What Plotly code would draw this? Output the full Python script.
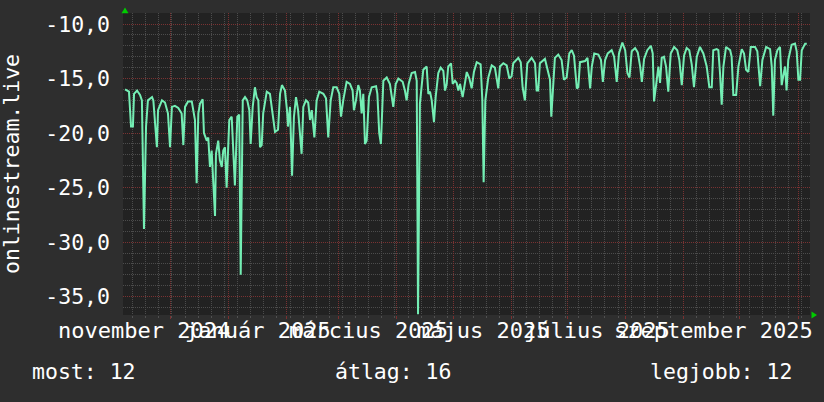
import pandas as pd
import plotly.graph_objects as go

# ---- data ----
base_date = "2024-11-01"   # day offsets below are days since this date

day_offset = [
    6.0, 8.1, 9.2, 10.2, 10.8, 12.4, 14.0, 15.0, 16.1, 17.2,
    18.2, 20.4, 21.1, 22.0, 23.0, 23.6, 25.7, 27.3, 28.9, 30.0,
    31.0, 32.6, 34.4, 36.2, 37.1, 38.0, 39.6, 41.6, 43.3, 44.2,
    45.1, 46.0, 47.4, 48.1, 49.6, 50.4, 51.3, 52.2, 53.1, 54.0,
    54.5, 55.7, 56.6, 57.6, 58.4, 59.3, 60.2, 61.6, 62.9, 64.6,
    65.9, 66.9, 67.7, 68.8, 70.0, 71.2, 72.3, 73.0, 74.1, 75.3,
    76.2, 77.1, 78.0, 78.9, 79.7, 81.6, 83.3, 84.9, 86.0, 87.6,
    88.7, 89.7, 91.3, 92.4, 92.9, 94.0, 95.1, 96.1, 97.2, 98.3,
    100.2, 101.1, 102.5, 103.7, 104.7, 105.6, 107.0, 108.2, 109.6, 111.8,
    113.2, 114.4, 115.7, 117.1, 118.9, 120.3, 121.2, 122.4, 124.2, 126.0,
    127.4, 128.1, 129.2, 130.4, 131.3, 132.2, 133.1, 134.0, 134.9, 136.1,
    137.6, 139.9, 140.6, 141.6, 142.5, 143.8, 145.6, 147.3, 148.2, 149.1,
    150.4, 151.8, 154.1, 155.3, 156.2, 157.3, 158.9, 160.7, 161.6, 162.3,
    163.3, 165.1, 166.9, 167.8, 168.7, 169.6, 170.8, 171.7, 173.1, 174.4,
    175.8, 176.7, 177.6, 178.4, 179.9, 180.8, 182.0, 182.9, 183.8, 184.7,
    186.1, 187.4, 188.3, 189.7, 190.9, 192.1, 193.6, 195.7, 196.6, 197.3,
    198.2, 199.8, 201.6, 203.3, 205.1, 206.0, 207.8, 209.6, 211.0, 212.2,
    213.1, 215.8, 217.1, 218.1, 219.3, 220.6, 222.9, 224.7, 225.6, 226.4,
    227.3, 230.0, 231.8, 232.7, 233.4, 234.4, 235.3, 237.1, 238.9, 240.1,
    241.6, 243.0, 244.3, 245.5, 247.0, 247.8, 248.7, 251.4, 252.7, 254.1,
    255.0, 256.3, 258.5, 259.9, 260.9, 262.1, 263.5, 265.6, 266.9, 268.3,
    269.5, 271.3, 272.8, 274.0, 275.1, 276.3, 278.1, 279.5, 280.8, 281.7,
    282.9, 284.6, 286.5, 287.5, 288.2, 289.3, 290.5, 291.4, 292.3, 293.5,
    294.6, 295.8, 297.1, 298.9, 300.6, 301.7, 303.0, 304.2, 305.6, 307.0,
    308.3, 309.5, 311.0, 312.7, 314.5, 316.3, 317.7, 319.0, 319.8, 321.6,
    322.5, 323.4, 324.3, 325.2, 326.6, 328.8, 329.6, 330.5, 332.0, 333.2,
    335.0, 336.2, 337.3, 338.5, 339.8, 342.1, 343.3, 344.8, 346.0, 348.0,
    350.1, 351.0, 351.8, 352.7, 354.0, 355.4, 356.3, 357.1, 358.1, 358.9,
    359.8, 361.6, 363.4, 364.3, 365.2, 366.1, 367.0, 368.8, 369.7,
]

values = [
    -16.0, -16.2, -19.4, -19.4, -16.4, -16.1, -16.5, -17.0, -28.8, -19.4,
    -17.0, -16.7, -17.0, -18.8, -21.3, -17.9, -17.0, -17.2, -18.2, -21.3,
    -17.6, -17.5, -17.7, -18.2, -21.1, -17.6, -17.1, -17.1, -18.8, -24.6,
    -18.2, -17.3, -16.9, -20.0, -20.7, -20.4, -23.1, -21.6, -25.3, -27.6,
    -21.9, -20.7, -22.5, -23.1, -21.6, -21.3, -25.0, -18.8, -18.5, -24.8,
    -18.5, -18.3, -33.0, -17.0, -16.7, -17.0, -17.9, -21.0, -17.6, -15.8,
    -16.7, -17.0, -21.3, -21.1, -18.2, -16.2, -16.4, -18.2, -19.9, -19.7,
    -16.4, -15.6, -16.1, -17.9, -19.4, -17.6, -23.9, -18.5, -16.7, -17.9,
    -21.9, -17.6, -17.0, -17.2, -18.8, -17.9, -20.4, -17.0, -16.2, -16.4,
    -16.8, -20.4, -17.0, -15.8, -15.8, -16.4, -18.5, -17.0, -15.3, -15.5,
    -16.1, -17.9, -17.0, -15.6, -16.1, -18.2, -16.4, -21.0, -20.7, -16.7,
    -15.8, -15.7, -16.4, -20.0, -21.0, -15.2, -14.9, -15.5, -16.7, -17.6,
    -15.5, -15.0, -15.3, -16.1, -17.0, -15.5, -14.5, -14.4, -15.2, -36.6,
    -17.3, -14.2, -13.9, -16.4, -16.2, -17.0, -19.0, -16.7, -14.5, -14.0,
    -14.3, -16.1, -15.5, -13.9, -13.6, -15.5, -15.2, -15.4, -16.1, -15.5,
    -16.7, -15.2, -14.4, -15.0, -15.9, -14.4, -13.5, -13.7, -17.0, -24.5,
    -17.0, -14.9, -13.8, -14.0, -15.9, -13.9, -13.6, -13.8, -15.0, -14.8,
    -13.6, -13.1, -13.5, -15.8, -17.0, -13.6, -13.1, -13.6, -16.1, -16.1,
    -13.6, -13.2, -14.5, -15.1, -18.5, -14.9, -13.1, -12.8, -13.3, -15.1,
    -14.9, -12.7, -12.4, -12.9, -15.9, -15.8, -13.5, -13.4, -13.1, -15.9,
    -13.9, -12.7, -12.8, -13.3, -15.3, -13.3, -12.7, -12.4, -13.0, -15.3,
    -12.7, -11.7, -12.4, -14.5, -14.9, -12.5, -12.2, -12.6, -13.9, -15.3,
    -13.2, -12.4, -12.0, -12.7, -17.1, -15.6, -13.9, -15.4, -13.1, -13.0,
    -13.9, -16.2, -12.7, -12.1, -12.4, -13.3, -15.6, -12.9, -12.2, -12.4,
    -13.7, -15.8, -13.0, -12.1, -12.7, -13.9, -15.8, -15.8, -12.4, -12.3,
    -12.4, -14.5, -17.4, -13.9, -12.1, -12.4, -13.0, -16.5, -16.5, -13.9,
    -12.3, -12.7, -14.2, -14.4, -12.1, -12.1, -12.5, -15.7, -13.3, -12.1,
    -12.3, -13.9, -18.4, -13.3, -12.4, -12.1, -15.6, -14.8, -13.9, -16.1,
    -13.3, -11.9, -11.8, -12.5, -15.1, -15.1, -12.4, -11.8, -11.8,
]

y_tick_values = [-35, -30, -25, -20, -15, -10]
y_tick_labels = ["-35,0", "-30,0", "-25,0", "-20,0", "-15,0", "-10,0"]

x_label_months = ["2024-11-01", "2025-01-01", "2025-03-01", "2025-05-01", "2025-07-01", "2025-09-01"]
x_label_texts = ["november 2024", "január 2025", "március 2025", "május 2025", "július 2025", "szeptember 2025"]

series_name = "onlinestream.live"
stat_labels = ["most", "átlag", "legjobb"]
stat_values = [12, 16, 12]

# ---- build ----
n = min(len(day_offset), len(values))
base = pd.Timestamp(base_date)
dates = [base + pd.Timedelta(days=d) for d in day_offset[:n]]

W, H = 824, 402
L, R, T, B = 123, 14, 13, 87
PW, PH = W - L - R, H - T - B

def px_x(p):
    return (p - L) / PW

def px_y(p):
    return (T + PH - p) / PH

FONT = "DejaVu Sans Mono"
FS = 21.5
TXT = "#ffffff"
RED = "#7a3232"
GRAY = "#4c4c4c"
BG = "#2e2e2e"

fig = go.Figure()
fig.add_trace(go.Scatter(
    x=dates, y=values[:n], mode="lines",
    line=dict(color="#74eeb4", width=2),
    hoverinfo="skip", showlegend=False,
))

x_range = [base + pd.Timedelta(days=4.91), base + pd.Timedelta(days=371.4)]

fig.update_xaxes(
    type="date", range=x_range,
    tickmode="linear", tick0="2024-12-01", dtick="M1",
    showticklabels=False,
    ticks="outside", ticklen=3, tickcolor="#7a3030",
    showgrid=True, gridcolor=RED, gridwidth=1, griddash="1px,1px",
    minor=dict(tickmode="linear", tick0="2024-11-11", dtick=7 * 86400000,
               showgrid=True, gridcolor=GRAY, griddash="1px,1px",
               ticks="outside", ticklen=2, tickcolor="#505050"),
    zeroline=False, showline=False,
)

fig.update_yaxes(
    range=[-36.68, -8.99],
    tickmode="array", tickvals=y_tick_values, ticktext=y_tick_labels,
    ticks="", ticklabelstandoff=12,
    tickfont=dict(family=FONT, size=FS, color=TXT),
    showgrid=True, gridcolor=RED, gridwidth=1, griddash="1px,1px",
    minor=dict(tickmode="linear", tick0=-36, dtick=1,
               showgrid=True, gridcolor=GRAY, griddash="1px,1px"),
    zeroline=False, showline=False,
)

annotations = []
for m, t in zip(x_label_months, x_label_texts):
    pos = pd.Timestamp(m) + pd.Timedelta(days=16)
    annotations.append(dict(
        x=pos, xref="x", y=px_y(330.7), yref="paper",
        text=t, showarrow=False, xanchor="center", yanchor="middle",
        font=dict(family=FONT, size=22, color=TXT),
    ))

annotations.append(dict(
    x=px_x(11), xref="paper", y=px_y(164), yref="paper",
    text=series_name, textangle=-90, showarrow=False,
    xanchor="center", yanchor="middle",
    font=dict(family=FONT, size=FS, color=TXT),
))

stat_px = [30, 333, 648]
for lab, val, p in zip(stat_labels, stat_values, stat_px):
    annotations.append(dict(
        x=px_x(p), xref="paper", y=px_y(371.7), yref="paper",
        text=f"{lab}: {val}", showarrow=False,
        xanchor="left", yanchor="middle",
        font=dict(family=FONT, size=FS, color=TXT),
    ))

def tri(points):
    pts = [f"{px_x(a):.5f},{px_y(b):.5f}" for a, b in points]
    return "M " + " L ".join(pts) + " Z"

shapes = [
    dict(type="path", xref="paper", yref="paper",
         path=tri([(125, 7.5), (121.5, 13.3), (128.5, 13.3)]),
         fillcolor="#00cc00", line=dict(width=0)),
    dict(type="path", xref="paper", yref="paper",
         path=tri([(817, 315), (811.5, 311.5), (811.5, 318.5)]),
         fillcolor="#00cc00", line=dict(width=0)),
]

fig.update_layout(
    width=W, height=H,
    margin=dict(l=L, r=R, t=T, b=B, autoexpand=False),
    paper_bgcolor=BG, plot_bgcolor="#222222",
    font=dict(family=FONT, size=FS, color=TXT),
    showlegend=False,
    annotations=annotations,
    shapes=shapes,
)

fig.write_html(
    "out.html",
    config={"displayModeBar": False, "staticPlot": True},
    post_script=("document.body.style.margin='0';"
                 "document.body.style.padding='0';"
                 "document.body.style.overflow='hidden';"
                 "document.body.style.background='" + BG + "';"),
)
